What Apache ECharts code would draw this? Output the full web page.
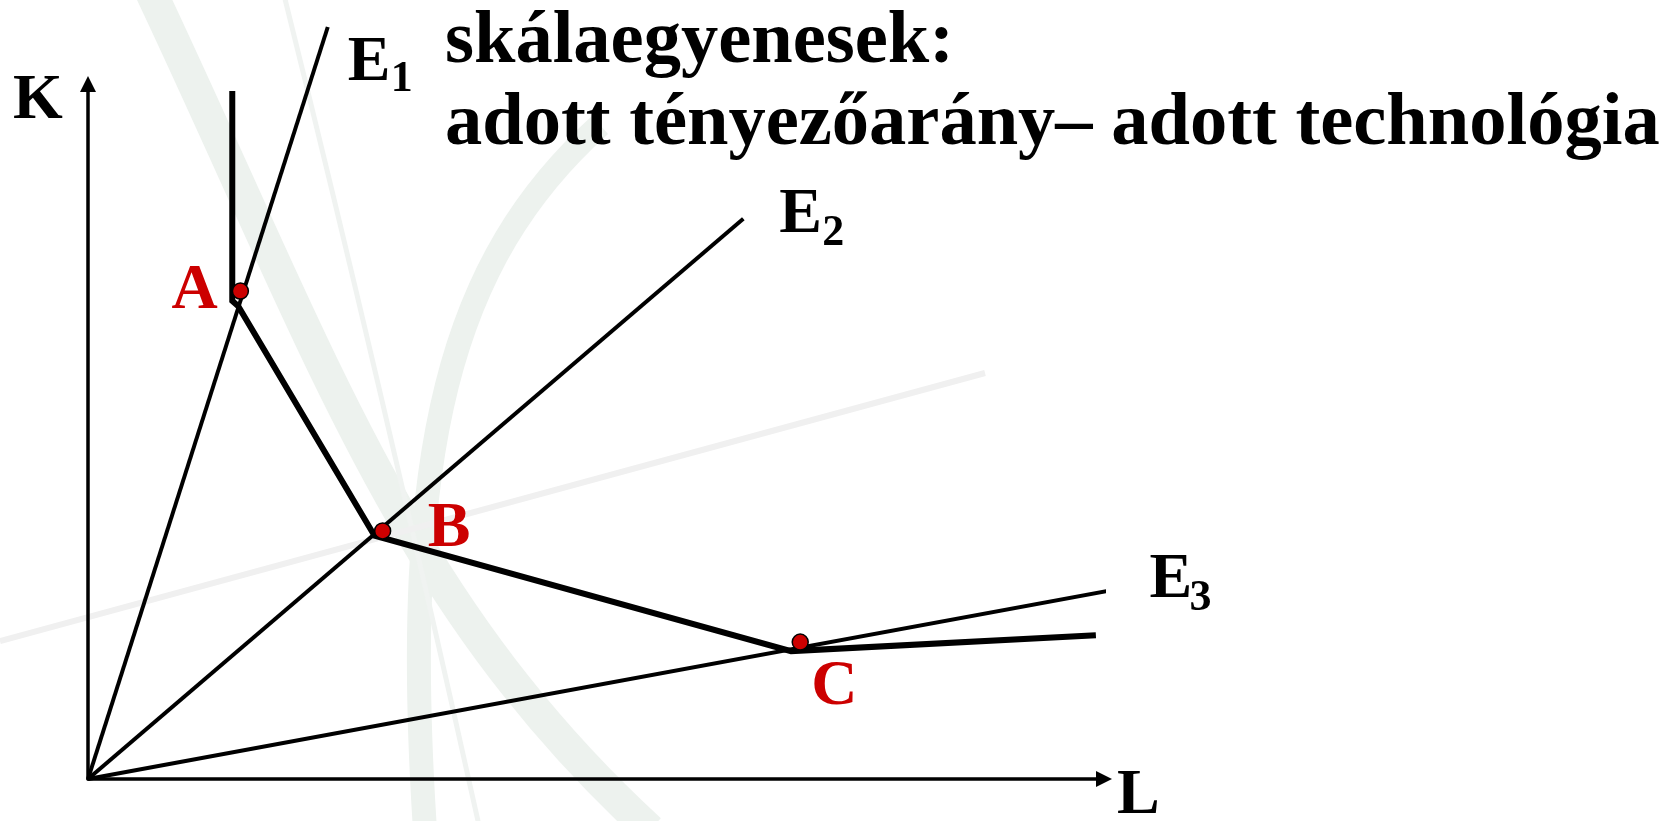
<!DOCTYPE html>
<html>
<head>
<meta charset="utf-8">
<script src="https://cdn.jsdelivr.net/npm/echarts/dist/echarts.min.js"></script>
<style>
  html, body { margin: 0; padding: 0; background: #ffffff; }
  #chart { width: 1680px; height: 821px; }
</style>
</head>
<body>
<div id="chart"></div>
<script>
// Isoquant made of three processes: vertical arm, kinks at A, B, C, flat arm (L, K)
const isoquant = [[14.2, 99.0], [14.2, 68.8], [14.8, 68.0], [28.2, 35.0], [69.2, 18.4], [99.2, 20.7]];

// Scale lines (rays from the origin) and their far ends (L, K)
const rayNames = ['1', '2', '3'];
const rayEnds = [[23.6, 108.2], [64.5, 80.6], [102.4, 27.6]];

// Marked points on the isoquant
const pointNames = ['A', 'B', 'C'];
const points = [[15.0, 70.2], [29.0, 35.7], [70.1, 19.7]];

// Axis names and ranges
const axisNames = { x: 'L', y: 'K' };
const axisMax = { x: 100, y: 100 };

// Heading lines
const titleLines = ['skálaegyenesek:', 'adott tényezőarány– adott technológia'];

const SERIF = '"Liberation Serif", "Times New Roman", serif';
const RED = '#cc0000';

const chart = echarts.init(document.getElementById('chart'), null, { renderer: 'canvas' });

function valueAxis(max) {
  return {
    type: 'value',
    min: 0,
    max: max,
    axisLine: {
      show: true,
      onZero: false,
      symbol: ['none', 'triangle'],
      symbolSize: [16, 16],
      lineStyle: { color: '#000', width: 3.5 }
    },
    axisTick: { show: false },
    axisLabel: { show: false },
    splitLine: { show: false }
  };
}

const series = [];
rayEnds.forEach((end, i) => {
  series.push({
    type: 'line',
    name: 'E' + rayNames[i],
    data: [[0, 0], end],
    symbol: 'none',
    clip: false,
    silent: true,
    z: 3,
    lineStyle: { color: '#000', width: 4 }
  });
});
series.push({
  type: 'line',
  name: 'isoquant',
  data: isoquant,
  symbol: 'none',
  clip: false,
  silent: true,
  z: 4,
  lineStyle: { color: '#000', width: 6, join: 'miter', cap: 'butt' }
});
series.push({
  type: 'scatter',
  name: 'points',
  data: points,
  symbol: 'circle',
  symbolSize: 16,
  clip: false,
  silent: true,
  z: 5,
  itemStyle: { color: RED, borderColor: '#000', borderWidth: 1.5, opacity: 1 }
});

chart.setOption({
  animation: false,
  backgroundColor: '#ffffff',
  grid: { left: 88, right: 576, top: 84, bottom: 42 },
  xAxis: valueAxis(axisMax.x),
  yAxis: valueAxis(axisMax.y),
  series: series
});

// ---- text and background decoration, anchored to the plotted geometry ----
const px = (p) => chart.convertToPixel({ gridIndex: 0 }, p);

function label(text, anchor, dx, dy, size, color) {
  return {
    type: 'text',
    z: 50,
    silent: true,
    style: {
      text: text,
      x: anchor[0] + dx,
      y: anchor[1] + dy,
      fill: color,
      fontFamily: SERIF,
      fontWeight: 'bold',
      fontSize: size,
      textAlign: 'left',
      verticalAlign: 'top'
    }
  };
}

const graphics = [];

// faint swoosh watermark behind the diagram
const band = '#edf2ee';
graphics.push(
  { type: 'bezierCurve', z: 0, silent: true,
    shape: { x1: 150, y1: -10, cpx1: 320, cpy1: 350, cpx2: 400, cpy2: 600, x2: 650, y2: 830 },
    style: { stroke: band, lineWidth: 32, fill: null } },
  { type: 'bezierCurve', z: 0, silent: true,
    shape: { x1: 600, y1: 125, cpx1: 450, cpy1: 260, cpx2: 400, cpy2: 450, x2: 425, y2: 830 },
    style: { stroke: band, lineWidth: 24, fill: null } },
  { type: 'bezierCurve', z: 0, silent: true,
    shape: { x1: 284, y1: -5, cpx1: 360, cpy1: 300, cpx2: 420, cpy2: 560, x2: 480, y2: 830 },
    style: { stroke: '#f0f3f1', lineWidth: 5, fill: null } },
  { type: 'line', z: 0, silent: true,
    shape: { x1: 0, y1: 641, x2: 985, y2: 373 },
    style: { stroke: '#f0f0f0', lineWidth: 6 } }
);

// axis names
const yTop = px([0, axisMax.y]);
const xEnd = px([axisMax.x, 0]);
graphics.push(label(axisNames.y, yTop, -75, -15, 64, '#000'));
graphics.push(label(axisNames.x, xEnd, 13, -15, 64, '#000'));

// point names
const pointOffsets = [[-69, -32], [45, -33], [11, 13]];
points.forEach((p, i) => {
  graphics.push(label(pointNames[i], px(p), pointOffsets[i][0], pointOffsets[i][1], 64, RED));
});

// scale line names with subscripts
const rayLabelOffsets = [
  { e: [20, 4], s: [63, 31] },
  { e: [36, -35], s: [79, -7] },
  { e: [21, -39], s: [61, -11] }
];
rayEnds.forEach((end, i) => {
  const a = px(end);
  const o = rayLabelOffsets[i];
  graphics.push(label('E', a, o.e[0], o.e[1], 64, '#000'));
  graphics.push(label(rayNames[i], a, o.s[0], o.s[1], 44, '#000'));
});

// heading
titleLines.forEach((line, i) => {
  graphics.push(label(line, [445, 5], 0, i * 82, 74.5, '#000'));
});

chart.setOption({ graphic: graphics });
</script>
</body>
</html>
